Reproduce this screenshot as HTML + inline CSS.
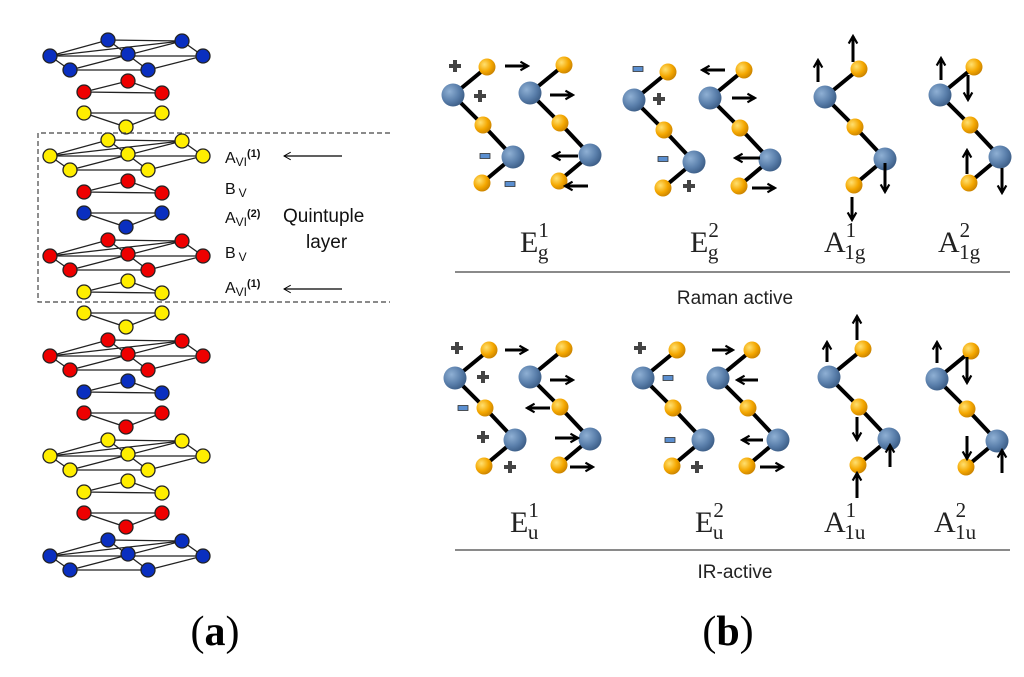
<!DOCTYPE html>
<html><head><meta charset="utf-8"><style>html,body{margin:0;padding:0;background:#fff}svg{display:block}</style></head>
<body>
<svg width="1024" height="677" viewBox="0 0 1024 677" xmlns="http://www.w3.org/2000/svg">
<defs>
<radialGradient id="gb" cx="0.35" cy="0.35" r="0.7"><stop offset="0" stop-color="#8fb0d4"/><stop offset="0.6" stop-color="#5a7fab"/><stop offset="1" stop-color="#3c5d86"/></radialGradient>
<radialGradient id="gy" cx="0.35" cy="0.35" r="0.7"><stop offset="0" stop-color="#ffe070"/><stop offset="0.6" stop-color="#f4a700"/><stop offset="1" stop-color="#c98200"/></radialGradient>
<marker id="ah" viewBox="0 0 10 10" refX="8" refY="5" markerWidth="3.6" markerHeight="3.6" orient="auto" markerUnits="strokeWidth"><polyline points="1,1 8,5 1,9" fill="none" stroke="#000" stroke-width="2"/></marker>
<marker id="ah2" viewBox="0 0 10 10" refX="9" refY="5" markerWidth="8" markerHeight="8" orient="auto" markerUnits="strokeWidth"><polyline points="2,1 9,5 2,9" fill="none" stroke="#000" stroke-width="1"/></marker>
<g id="chain">
<polyline points="34,-28 0,0 30,30 60,62 29,88" fill="none" stroke="#000" stroke-width="4"/>
<circle cx="0" cy="0" r="11.5" fill="url(#gb)"/>
<circle cx="60" cy="62" r="11.5" fill="url(#gb)"/>
<circle cx="34" cy="-28" r="8.5" fill="url(#gy)"/>
<circle cx="30" cy="30" r="8.5" fill="url(#gy)"/>
<circle cx="29" cy="88" r="8.5" fill="url(#gy)"/>
</g>
<path id="plus" d="M-6,0 H6 M0,-6 V6" stroke="#444" stroke-width="4"/>
<rect id="minus" x="-5" y="-2.5" width="10" height="5" fill="#5b8fd0" stroke="#333" stroke-width="0.8"/>
<g id="hex" stroke="#222" stroke-width="1.3">
<polygon points="0,0 74,1 95,16 40,30 -38,30 -58,16" fill="none"/>
<line x1="-58" y1="16" x2="95" y2="16"/>
<line x1="0" y1="0" x2="40" y2="30"/><line x1="74" y1="1" x2="-38" y2="30"/>
<line x1="-58" y1="16" x2="74" y2="1"/>
<g fill="currentColor"><circle cx="0" cy="0" r="7"/><circle cx="74" cy="1" r="7"/><circle cx="-58" cy="16" r="7"/><circle cx="20" cy="14" r="7"/><circle cx="95" cy="16" r="7"/><circle cx="-38" cy="30" r="7"/><circle cx="40" cy="30" r="7"/></g>
</g>
<g id="tu" stroke="#222" stroke-width="1.3">
<polygon points="0,0 -44,11 34,12" fill="none"/>
<g fill="currentColor"><circle cx="0" cy="0" r="7"/><circle cx="-44" cy="11" r="7"/><circle cx="34" cy="12" r="7"/></g>
</g>
<g id="td" stroke="#222" stroke-width="1.3">
<polygon points="-42,0 36,0 0,14" fill="none"/>
<g fill="currentColor"><circle cx="-42" cy="0" r="7"/><circle cx="36" cy="0" r="7"/><circle cx="0" cy="14" r="7"/></g>
</g>
</defs>

<use href="#hex" x="108" y="40" style="color:#0a2fc0"/>
<use href="#tu" x="128" y="81" style="color:#ee0000"/>
<use href="#td" x="126" y="113" style="color:#ffee00"/>
<use href="#hex" x="108" y="140" style="color:#ffee00"/>
<use href="#tu" x="128" y="181" style="color:#ee0000"/>
<use href="#td" x="126" y="213" style="color:#0a2fc0"/>
<use href="#hex" x="108" y="240" style="color:#ee0000"/>
<use href="#tu" x="128" y="281" style="color:#ffee00"/>
<use href="#td" x="126" y="313" style="color:#ffee00"/>
<use href="#hex" x="108" y="340" style="color:#ee0000"/>
<use href="#tu" x="128" y="381" style="color:#0a2fc0"/>
<use href="#td" x="126" y="413" style="color:#ee0000"/>
<use href="#hex" x="108" y="440" style="color:#ffee00"/>
<use href="#tu" x="128" y="481" style="color:#ffee00"/>
<use href="#td" x="126" y="513" style="color:#ee0000"/>
<use href="#hex" x="108" y="540" style="color:#0a2fc0"/>

<path d="M390,133 H38 V302 H390" fill="none" stroke="#444" stroke-width="1.2" stroke-dasharray="5,3"/>
<g font-family="Liberation Sans, sans-serif" font-size="16" fill="#111">
<text x="225" y="163">A<tspan font-size="12" dy="3">VI</tspan><tspan font-size="11" dy="-9" font-weight="bold">(1)</tspan></text>
<text x="225" y="194">B<tspan font-size="12" dy="3" dx="3">V</tspan></text>
<text x="225" y="223">A<tspan font-size="12" dy="3">VI</tspan><tspan font-size="11" dy="-9" font-weight="bold">(2)</tspan></text>
<text x="225" y="258">B<tspan font-size="12" dy="3" dx="3">V</tspan></text>
<text x="225" y="293">A<tspan font-size="12" dy="3">VI</tspan><tspan font-size="11" dy="-9" font-weight="bold">(1)</tspan></text>
<text x="283" y="222" font-size="19">Quintuple</text>
<text x="306" y="248" font-size="19">layer</text>
</g>
<line x1="342" y1="156" x2="284" y2="156" stroke="#000" stroke-width="1.2" marker-end="url(#ah2)"/>
<line x1="342" y1="289" x2="284" y2="289" stroke="#000" stroke-width="1.2" marker-end="url(#ah2)"/>

<use href="#chain" x="453" y="95"/><use href="#chain" x="530" y="93"/>
<use href="#chain" x="634" y="100"/><use href="#chain" x="710" y="98"/>
<use href="#chain" x="825" y="97"/><use href="#chain" x="940" y="95"/>
<use href="#chain" x="455" y="378"/><use href="#chain" x="530" y="377"/>
<use href="#chain" x="643" y="378"/><use href="#chain" x="718" y="378"/>
<use href="#chain" x="829" y="377"/><use href="#chain" x="937" y="379"/>

<!-- signs -->
<use href="#plus" x="455" y="66"/><use href="#plus" x="480" y="96"/>
<use href="#minus" x="485" y="156"/><use href="#minus" x="510" y="184"/>
<use href="#minus" x="638" y="69"/><use href="#plus" x="659" y="99"/>
<use href="#minus" x="663" y="159"/><use href="#plus" x="689" y="186"/>
<use href="#plus" x="457" y="348"/><use href="#plus" x="483" y="377"/>
<use href="#minus" x="463" y="408"/><use href="#plus" x="483" y="437"/>
<use href="#plus" x="510" y="467"/>
<use href="#plus" x="640" y="348"/><use href="#minus" x="668" y="378"/>
<use href="#minus" x="670" y="440"/><use href="#plus" x="697" y="467"/>

<g stroke="#000" stroke-width="3" marker-end="url(#ah)" fill="none">
<line x1="505" y1="66" x2="528" y2="66"/><line x1="550" y1="95" x2="573" y2="95"/>
<line x1="578" y1="156" x2="553" y2="156"/><line x1="588" y1="186" x2="565" y2="186"/>
<line x1="725" y1="70" x2="702" y2="70"/><line x1="732" y1="98" x2="755" y2="98"/>
<line x1="760" y1="158" x2="735" y2="158"/><line x1="752" y1="188" x2="775" y2="188"/>
<line x1="818" y1="82" x2="818" y2="60"/><line x1="853" y1="62" x2="853" y2="36"/>
<line x1="885" y1="163" x2="885" y2="192"/><line x1="852" y1="197" x2="852" y2="220"/>
<line x1="941" y1="80" x2="941" y2="58"/><line x1="968" y1="75" x2="968" y2="100"/>
<line x1="967" y1="174" x2="967" y2="150"/><line x1="1002" y1="168" x2="1002" y2="193"/>
<line x1="505" y1="350" x2="527" y2="350"/><line x1="550" y1="380" x2="573" y2="380"/>
<line x1="550" y1="408" x2="527" y2="408"/><line x1="555" y1="438" x2="578" y2="438"/>
<line x1="570" y1="467" x2="593" y2="467"/>
<line x1="712" y1="350" x2="733" y2="350"/><line x1="758" y1="380" x2="737" y2="380"/>
<line x1="763" y1="440" x2="742" y2="440"/><line x1="760" y1="467" x2="783" y2="467"/>
<line x1="827" y1="362" x2="827" y2="342"/><line x1="857" y1="340" x2="857" y2="316"/>
<line x1="857" y1="417" x2="857" y2="440"/><line x1="890" y1="467" x2="890" y2="445"/>
<line x1="857" y1="498" x2="857" y2="473"/>
<line x1="937" y1="363" x2="937" y2="342"/><line x1="967" y1="357" x2="967" y2="383"/>
<line x1="967" y1="436" x2="967" y2="459"/><line x1="1002" y1="473" x2="1002" y2="450"/>
</g>

<g font-family="Liberation Serif, serif" font-size="30" fill="#222">
<text x="520" y="252">E<tspan font-size="21" dy="-15">1</tspan><tspan font-size="21" dx="-11" dy="22">g</tspan></text>
<text x="690" y="252">E<tspan font-size="21" dy="-15">2</tspan><tspan font-size="21" dx="-11" dy="22">g</tspan></text>
<text x="824" y="252">A<tspan font-size="21" dy="-15">1</tspan><tspan font-size="21" dx="-11" dy="22">1g</tspan></text>
<text x="938" y="252">A<tspan font-size="21" dy="-15">2</tspan><tspan font-size="21" dx="-11" dy="22">1g</tspan></text>
<text x="510" y="532">E<tspan font-size="21" dy="-15">1</tspan><tspan font-size="21" dx="-11" dy="22">u</tspan></text>
<text x="695" y="532">E<tspan font-size="21" dy="-15">2</tspan><tspan font-size="21" dx="-11" dy="22">u</tspan></text>
<text x="824" y="532">A<tspan font-size="21" dy="-15">1</tspan><tspan font-size="21" dx="-11" dy="22">1u</tspan></text>
<text x="934" y="532">A<tspan font-size="21" dy="-15">2</tspan><tspan font-size="21" dx="-11" dy="22">1u</tspan></text>
</g>
<line x1="455" y1="272" x2="1010" y2="272" stroke="#444" stroke-width="1.3"/>
<line x1="455" y1="550" x2="1010" y2="550" stroke="#444" stroke-width="1.3"/>
<g font-family="Liberation Sans, sans-serif" font-size="19" fill="#222" text-anchor="middle">
<text x="735" y="304">Raman active</text>
<text x="735" y="578">IR-active</text>
</g>
<g font-family="Liberation Serif, serif" font-size="42" fill="#000" text-anchor="middle">
<text x="215" y="645">(<tspan font-weight="bold">a</tspan>)</text>
<text x="728" y="645">(<tspan font-weight="bold">b</tspan>)</text>
</g>
</svg>
</body></html>
